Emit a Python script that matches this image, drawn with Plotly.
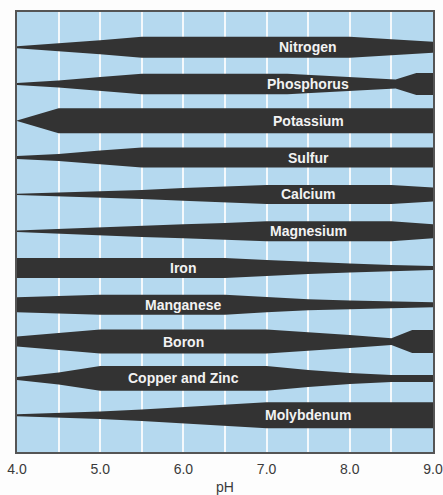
import plotly.graph_objects as go

# Nutrient availability bands vs soil pH (half-thickness of each band, in px-like units)
nutrients = ["Nitrogen", "Phosphorus", "Potassium", "Sulfur", "Calcium", "Magnesium",
             "Iron", "Manganese", "Boron", "Copper and Zinc", "Molybdenum"]

ph_nitrogen = [4.0, 4.5, 5.0, 5.5, 8.0, 9.0]
av_nitrogen = [1.0, 3.7, 7.0, 10.5, 10.5, 5.5]

ph_phosphorus = [4.0, 4.5, 5.0, 5.5, 7.25, 7.5, 8.0, 8.55, 8.8, 9.0]
av_phosphorus = [1.0, 3.5, 7.0, 10.3, 10.3, 9.2, 6.7, 4.5, 11.0, 11.0]

ph_potassium = [4.0, 4.5, 9.0]
av_potassium = [0.3, 12.5, 12.5]

ph_sulfur = [4.0, 4.5, 5.0, 5.5, 9.0]
av_sulfur = [1.5, 3.5, 7.0, 10.0, 10.0]

ph_calcium = [4.0, 4.5, 5.0, 5.5, 6.0, 6.5, 7.0, 8.5, 9.0]
av_calcium = [0.7, 1.8, 3.0, 4.5, 6.3, 8.2, 9.5, 9.5, 7.0]

ph_magnesium = [4.0, 4.5, 5.0, 5.5, 6.0, 6.5, 7.0, 8.5, 9.0]
av_magnesium = [0.8, 2.5, 4.0, 5.7, 7.0, 8.3, 10.0, 10.0, 7.0]

ph_iron = [4.0, 6.5, 7.0, 7.5, 8.0, 8.5, 9.0]
av_iron = [10.0, 10.0, 8.0, 6.0, 4.5, 3.0, 2.0]

ph_manganese = [4.0, 5.0, 6.5, 7.0, 7.5, 8.0, 8.5, 9.0]
av_manganese = [7.5, 10.0, 10.0, 7.5, 5.5, 4.3, 3.3, 2.5]

ph_boron = [4.0, 5.0, 7.0, 7.5, 8.0, 8.5, 8.75, 9.0]
av_boron = [5.0, 12.0, 12.0, 9.5, 6.5, 3.3, 11.5, 11.5]

ph_copper_zinc = [4.0, 4.5, 5.0, 7.0, 7.5, 8.0, 8.5, 9.0]
av_copper_zinc = [1.5, 6.0, 12.3, 12.3, 8.5, 5.5, 3.5, 3.5]

ph_molybdenum = [4.0, 4.5, 5.0, 5.5, 6.0, 6.5, 7.0, 9.0]
av_molybdenum = [1.0, 2.2, 3.8, 5.8, 8.0, 10.5, 13.0, 13.0]

label_ph = [7.5, 7.5, 7.5, 7.5, 7.5, 7.5, 6.0, 6.0, 6.0, 6.0, 7.5]

ph_ticks = [4.0, 5.0, 6.0, 7.0, 8.0, 9.0]
tick_labels = ["4.0", "5.0", "6.0", "7.0", "8.0", "9.0"]

series = [
    (ph_nitrogen, av_nitrogen), (ph_phosphorus, av_phosphorus),
    (ph_potassium, av_potassium), (ph_sulfur, av_sulfur),
    (ph_calcium, av_calcium), (ph_magnesium, av_magnesium),
    (ph_iron, av_iron), (ph_manganese, av_manganese),
    (ph_boron, av_boron), (ph_copper_zinc, av_copper_zinc),
    (ph_molybdenum, av_molybdenum),
]

PITCH = 36.8  # px per row (converts band thickness units to row units)
BAND = "#333333"

fig = go.Figure()
for i, (ph, av) in enumerate(series):
    top = [i - a / PITCH for a in av]
    bot = [i + a / PITCH for a in av]
    xs = list(ph) + list(ph)[::-1]
    ys = top + bot[::-1]
    fig.add_trace(go.Scatter(x=xs, y=ys, fill="toself", fillcolor=BAND,
                             line=dict(width=0, color=BAND), mode="lines",
                             hoverinfo="skip", showlegend=False))

for i, name in enumerate(nutrients):
    fig.add_annotation(x=label_ph[i], y=i, text=name, showarrow=False,
                       font=dict(family="Liberation Sans", size=14, color="#f2f2f2", weight=700),
                       xanchor="center", yanchor="middle")

fig.update_layout(
    width=443, height=495,
    margin=dict(l=17, r=10, t=12, b=43),
    paper_bgcolor="#fdfdfd",
    plot_bgcolor="#b5d9ef",
    xaxis=dict(range=[4.0, 9.0], tickvals=ph_ticks, ticktext=tick_labels,
               showgrid=False, zeroline=False, automargin=False,
               minor=dict(dtick=0.5, showgrid=True, gridcolor="#f4f9fc", gridwidth=1.5),
               showline=True, mirror=True, linecolor="#555555", linewidth=1.5,
               ticks="", ticklabelstandoff=3,
               tickfont=dict(family="Liberation Sans", size=14, color="#3a3a3a"),
               title=dict(text="pH", font=dict(family="Liberation Sans", size=14, color="#3a3a3a"),
                          standoff=12)),
    yaxis=dict(range=[11.0, -0.957], showgrid=False, zeroline=False, showticklabels=False,
               automargin=False,
               showline=True, mirror=True, linecolor="#555555", linewidth=1.5, ticks=""),
)

fig.write_html("out.html", config={"displayModeBar": False},
               post_script="document.body.style.margin='0';document.body.style.overflow='hidden';")
